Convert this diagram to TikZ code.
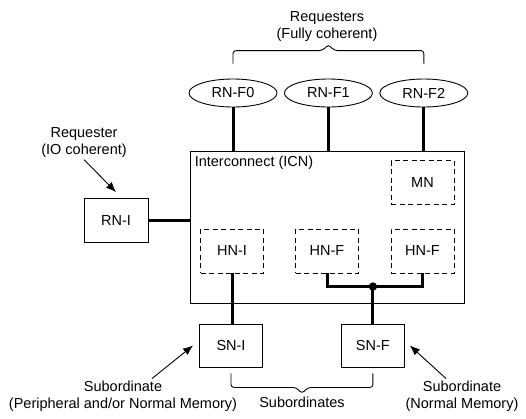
\documentclass[tikz,border=0pt]{standalone}
\usepackage{fontspec}
\setmainfont{Liberation Sans}
\usetikzlibrary{arrows.meta,positioning,calc,shapes.geometric}
\tikzset{box/.style={draw,line width=0.9pt,minimum width=64pt,minimum height=44pt,inner sep=0pt},hub/.style={box,dash pattern=on 5pt off 3.5pt,minimum width=63pt},rnf/.style={ellipse,draw,line width=0.9pt,minimum width=88pt,minimum height=28pt,inner sep=0pt},link/.style={line width=3pt},note/.style={-{Latex[length=10pt,width=8pt]},line width=0.9pt},tag/.style={align=center,inner sep=2pt},curl/.style={line width=0.9pt,rounded corners=3pt}}

\begin{document}
\begin{tikzpicture}[x=1pt,y=-1pt,font=\fontsize{14.5}{17}\selectfont,node distance=6.5pt]
\useasboundingbox (0,0) rectangle (526,418);
\node[box,minimum width=274pt,minimum height=152pt] (icn) at (327,227) {};
\node[anchor=west,inner sep=0pt] (icnl) at ($(icn.north west)+(5,12)$) {Interconnect (ICN)};
\node[hub] (mn) at (422.5,182.5) {MN};
\node[hub] (hni) at (232,251) {HN-I};
\node[hub] (hnf) at (327,251) {HN-F};
\node[hub] (hnfb) at (422.5,251) {HN-F};
\node[rnf] (f0) at (233,93) {RN-F0};
\node[rnf,right=of f0] (f1) {RN-F1};
\node[rnf,right=of f1] (f2) {RN-F2};
\node[box] (rni) at (116,220.5) {RN-I};
\node[box,minimum width=63pt,minimum height=43pt] (sni) at (231,345.5) {SN-I};
\node[box,minimum width=63pt,minimum height=43pt,right=78pt of sni] (snf) {SN-F};
\node[tag] (req) at (327,26.5) {Requesters\\(Fully coherent)};
\node[tag] (reqio) at (84,142.5) {Requester\\(IO coherent)};
\node[tag] (subl) at (123,396) {Subordinate\\(Peripheral and/or Normal Memory)};
\node[tag] (subr) at (462,396) {Subordinate\\(Normal Memory)};
\node[tag] (subs) at (302,402) {Subordinates};
\coordinate[above=37pt of snf.north] (j);
\coordinate (top) at (f1.north);
\coordinate (bot) at ($(sni.south)!0.5!(snf.south)$);
\foreach \f in {f0,f1,f2} \draw[link] (\f) -- (\f |- icn.north);
\draw[link] (rni) -- (rni -| icn.west);
\draw[link] (hni) -- (hni |- sni.north);
\draw[link] (hnf) |- (j) -| (hnfb);\draw[link] (j) -- (snf);
\fill (j) circle (4.2pt);
\draw[curl] ($(f0.north)+(0,-15)$) |- ($(top)+(-6,-28)$) -- ($(top)+(0,-34)$) -- ($(top)+(6,-28)$) -| ($(f2.north)+(0,-15)$);
\draw[curl] ($(sni.south)+(0,6)$) |- ($(bot)+(-6,20)$) -- ($(bot)+(0,26)$) -- ($(bot)+(6,20)$) -| ($(snf.south)+(0,6)$);
\draw[note] (reqio.south) -- ($(rni.north)+(0,-6)$);
\draw[note] ($(subl.north)+(29,0)$) -- ($(sni.west)+(-6,0)$);
\draw[note] ($(subr.north)+(-16,0)$) -- ($(snf.east)+(5,0)$);
\end{tikzpicture}
\end{document}
